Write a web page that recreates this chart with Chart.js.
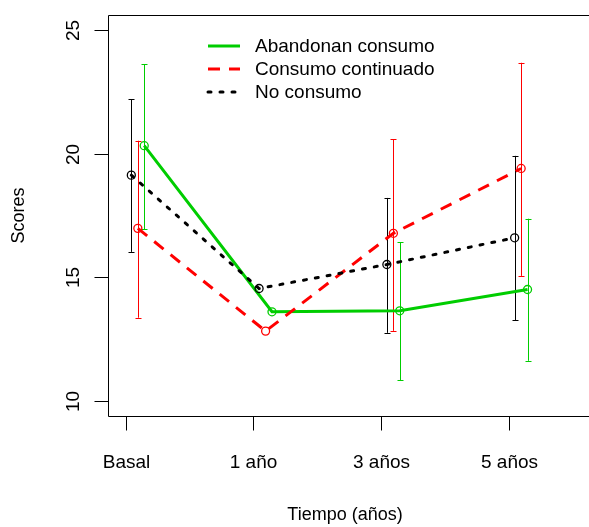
<!DOCTYPE html>
<html>
<head>
<meta charset="utf-8">
<script src="https://cdn.jsdelivr.net/npm/chart.js@4"></script>
<style>
  html, body { margin: 0; padding: 0; background: #fff; overflow: hidden; }
  #wrap { width: 589px; height: 527px; position: relative; }
</style>
</head>
<body>
<div id="wrap"><canvas id="scoresChart"></canvas></div>
<script>
// categories on the x axis (positions 1..4)
var timeLabels = ['Basal', '1 año', '3 años', '5 años'];
var yTicks = [10, 15, 20, 25];

var seriesNames = ['Abandonan consumo', 'Consumo continuado', 'No consumo'];

// mean scores
var abandonan = [20.32, 13.61, 13.65, 14.51];
var continuado = [16.98, 12.83, 16.78, 19.40];
var noConsumo = [19.13, 14.55, 15.52, 16.60];

// error bar limits (no bars drawn at 1 año)
var abandonanLow = [16.95, null, 10.85, 11.63];
var abandonanHigh = [23.62, null, 16.41, 17.37];
var continuadoLow = [13.37, null, 12.84, 15.06];
var continuadoHigh = [20.52, null, 20.59, 23.67];
var noConsumoLow = [16.03, null, 12.76, 13.27];
var noConsumoHigh = [22.20, null, 18.21, 19.91];

// small horizontal shift so the groups don't overlap
var shiftAbandonan = 0.145;
var shiftContinuado = 0.095;
var shiftNoConsumo = 0.044;

var FONT = '"Liberation Sans", Arial, Helvetica, sans-serif';
var GREEN = '#00cd00';
var RED = '#ff0000';
var BLACK = '#000000';

function toPoints(values, shift) {
    return values.map(function(v, i) {
        return { x: i + 1 + shift, y: v };
    });
}

var errorBars = [
    { color: BLACK, low: noConsumoLow, high: noConsumoHigh, shift: shiftNoConsumo },
    { color: RED, low: continuadoLow, high: continuadoHigh, shift: shiftContinuado },
    { color: GREEN, low: abandonanLow, high: abandonanHigh, shift: shiftAbandonan }
];

// error bars under the points
var errorBarPlugin = {
    id: 'errorBars',
    beforeDatasetsDraw: function(chart) {
        var ctx = chart.ctx;
        var xs = chart.scales.x, ys = chart.scales.y;
        ctx.save();
        ctx.lineWidth = 1;
        ctx.setLineDash([]);
        errorBars.forEach(function(eb) {
            ctx.strokeStyle = eb.color;
            eb.low.forEach(function(lo, i) {
                var hi = eb.high[i];
                if (lo === null || hi === null) return;
                var px = Math.round(xs.getPixelForValue(i + 1 + eb.shift)) + 0.5;
                var py1 = ys.getPixelForValue(lo);
                var py2 = ys.getPixelForValue(hi);
                ctx.beginPath();
                ctx.moveTo(px, py1);
                ctx.lineTo(px, py2);
                ctx.moveTo(px - 3, Math.round(py1) + 0.5);
                ctx.lineTo(px + 3, Math.round(py1) + 0.5);
                ctx.moveTo(px - 3, Math.round(py2) + 0.5);
                ctx.lineTo(px + 3, Math.round(py2) + 0.5);
                ctx.stroke();
            });
        });
        ctx.restore();
    }
};

// R style box, ticks, labels and legend
var framePlugin = {
    id: 'rFrame',
    afterDraw: function(chart) {
        var ctx = chart.ctx;
        var area = chart.chartArea;
        var xs = chart.scales.x, ys = chart.scales.y;
        ctx.save();
        ctx.strokeStyle = '#000';
        ctx.lineWidth = 1;
        ctx.setLineDash([]);

        var left = Math.round(area.left) + 0.5;
        var top = Math.round(area.top) + 0.5;
        var bottom = Math.round(area.bottom) + 0.5;

        // box (right side is cut off)
        ctx.beginPath();
        ctx.moveTo(chart.width, top);
        ctx.lineTo(left, top);
        ctx.lineTo(left, bottom);
        ctx.lineTo(chart.width, bottom);
        ctx.stroke();

        ctx.fillStyle = '#000';
        ctx.font = '19px ' + FONT;
        ctx.textAlign = 'center';
        ctx.textBaseline = 'middle';

        // x ticks
        timeLabels.forEach(function(lab, i) {
            var px = Math.round(xs.getPixelForValue(i + 1)) + 0.5;
            ctx.beginPath();
            ctx.moveTo(px, bottom);
            ctx.lineTo(px, bottom + 14);
            ctx.stroke();
            ctx.fillText(lab, px, 463);
        });

        // y ticks, labels turned like R does
        yTicks.forEach(function(t) {
            var py = Math.round(ys.getPixelForValue(t)) + 0.5;
            ctx.beginPath();
            ctx.moveTo(left, py);
            ctx.lineTo(left - 14, py);
            ctx.stroke();
            ctx.save();
            ctx.translate(74, py);
            ctx.rotate(-Math.PI / 2);
            ctx.fillText(String(t), 0, 0);
            ctx.restore();
        });

        // axis titles
        ctx.font = '18px ' + FONT;
        ctx.fillText('Tiempo (años)', 345, 515);
        ctx.save();
        ctx.translate(19, (area.top + area.bottom) / 2);
        ctx.rotate(-Math.PI / 2);
        ctx.fillText('Scores', 0, 0);
        ctx.restore();

        // legend
        ctx.font = '19px ' + FONT;
        ctx.textAlign = 'left';
        ctx.lineWidth = 3;
        var rows = [46, 69, 92];
        chart.data.datasets.forEach(function(ds, i) {
            var y = rows[i];
            ctx.strokeStyle = ds.borderColor;
            ctx.lineCap = ds.borderCapStyle || 'butt';
            ctx.setLineDash(ds.borderDash || []);
            ctx.beginPath();
            ctx.moveTo(208, y);
            ctx.lineTo(240, y);
            ctx.stroke();
            ctx.fillText(ds.label, 255, y + 1);
        });
        ctx.restore();
    }
};

var ctx = document.getElementById('scoresChart').getContext('2d');
var chart = new Chart(ctx, {
    type: 'scatter',
    data: {
        datasets: [{
            label: seriesNames[0],
            data: toPoints(abandonan, shiftAbandonan),
            showLine: true,
            borderColor: GREEN,
            borderWidth: 3,
            pointRadius: 4,
            pointBorderWidth: 1.3,
            pointBorderColor: GREEN,
            pointBackgroundColor: 'rgba(0,0,0,0)',
            order: 3
        }, {
            label: seriesNames[1],
            data: toPoints(continuado, shiftContinuado),
            showLine: true,
            borderColor: RED,
            borderWidth: 3,
            borderDash: [12, 9],
            pointRadius: 4,
            pointBorderWidth: 1.3,
            pointBorderColor: RED,
            pointBackgroundColor: 'rgba(0,0,0,0)',
            order: 2
        }, {
            label: seriesNames[2],
            data: toPoints(noConsumo, shiftNoConsumo),
            showLine: true,
            borderColor: BLACK,
            borderWidth: 3,
            borderDash: [3, 9],
            borderCapStyle: 'round',
            pointRadius: 4,
            pointBorderWidth: 1.3,
            pointBorderColor: BLACK,
            pointBackgroundColor: 'rgba(0,0,0,0)',
            order: 1
        }]
    },
    options: {
        responsive: true,
        maintainAspectRatio: false,
        animation: false,
        layout: {
            autoPadding: false,
            padding: { left: 108, top: 15, right: 0, bottom: 111 }
        },
        scales: {
            x: { type: 'linear', display: false, min: 0.8615, max: 4.626 },
            y: { type: 'linear', display: false, min: 9.4, max: 25.6 }
        },
        plugins: {
            legend: { display: false },
            tooltip: { enabled: false }
        }
    },
    plugins: [errorBarPlugin, framePlugin]
});
</script>
</body>
</html>
